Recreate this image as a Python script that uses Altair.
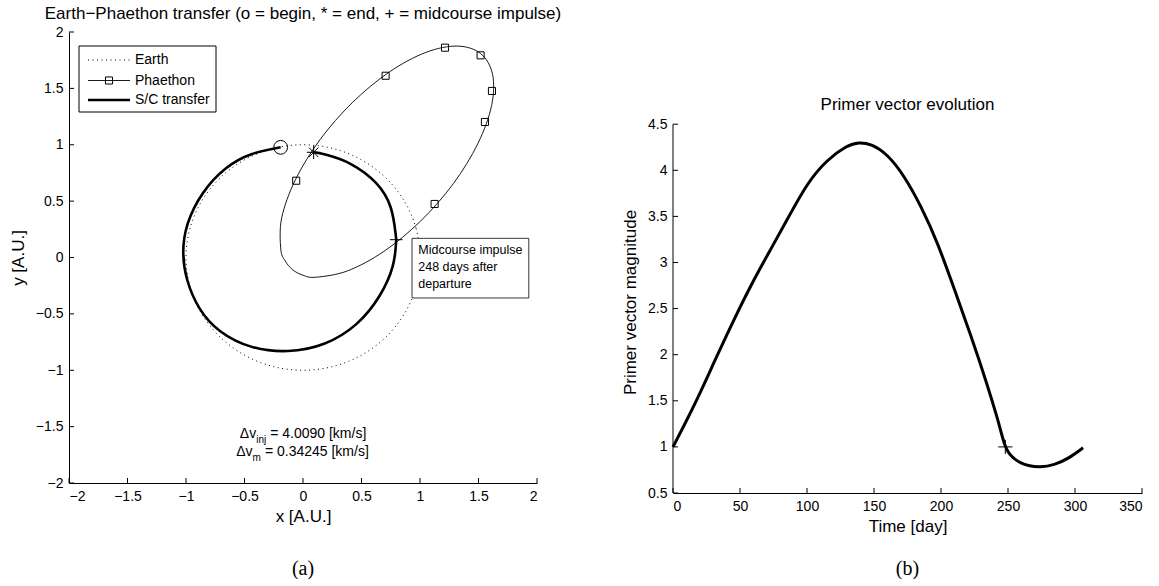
import altair as alt
import pandas as pd

FONT = "Liberation Sans"

# ---------------- data ----------------
earth_x = [1.0, 0.966, 0.866, 0.707, 0.5, 0.259, 0.0, -0.259, -0.5, -0.707, -0.866, -0.966,
           -1.0, -0.966, -0.866, -0.707, -0.5, -0.259, 0.0, 0.259, 0.5, 0.707, 0.866, 0.966]
earth_y = [0.0, 0.259, 0.5, 0.707, 0.866, 0.966, 1.0, 0.966, 0.866, 0.707, 0.5, 0.259,
           0.0, -0.259, -0.5, -0.707, -0.866, -0.966, -1.0, -0.966, -0.866, -0.707, -0.5, -0.259]

phaethon_x = [1.519, 1.321, 1.050, 0.739, 0.425, 0.145, -0.065, -0.182, -0.190, -0.153, -0.089,
              -0.001, 0.109, 0.380, 0.691, 1.005, 1.285, 1.495, 1.612, 1.620]
phaethon_y = [1.808, 1.875, 1.819, 1.646, 1.377, 1.045, 0.689, 0.352, 0.076, -0.029, -0.108,
              -0.157, -0.175, -0.119, 0.054, 0.323, 0.655, 1.011, 1.348, 1.625]

square_x = [1.214, 1.518, 1.615, 1.555, 1.125, -0.058, 0.706]
square_y = [1.861, 1.793, 1.477, 1.202, 0.475, 0.681, 1.612]

# S/C transfer: arc before the midcourse impulse, then arc after it
transfer1_x = [-0.191, -0.44, -0.66, -0.869, -1.0, -1.035, -1.0, -0.897, -0.726, -0.442, -0.128,
               0.185, 0.470, 0.669, 0.783, 0.797]
transfer1_y = [0.977, 0.93, 0.81, 0.578, 0.30, 0.046, -0.20, -0.457, -0.663, -0.812, -0.845,
               -0.785, -0.605, -0.339, -0.073, 0.158]
transfer2_x = [0.797, 0.765, 0.641, 0.413, 0.185, 0.091]
transfer2_y = [0.158, 0.459, 0.667, 0.844, 0.918, 0.933]

begin_pt = (-0.191, 0.977)
end_pt = (0.091, 0.933)
mid_pt = (0.797, 0.158)

xy_ticks = [-2, -1.5, -1, -0.5, 0, 0.5, 1, 1.5, 2]

primer_t = [0, 8.2, 18.2, 30.6, 45.6, 60.5, 73.0, 85.4, 100.3, 115.3, 130.2, 138.4, 147.7, 160.1,
            172.6, 185.0, 197.5, 209.9, 222.4, 234.8, 242.3, 245.0, 247.5, 250.0, 252.5, 255.5,
            259.5, 264.7, 273.9, 284.6, 294.6, 306.0]
primer_v = [1.0, 1.23, 1.52, 1.917, 2.387, 2.82, 3.145, 3.47, 3.868, 4.12, 4.272, 4.305, 4.288, 4.175,
            3.94, 3.615, 3.217, 2.712, 2.206, 1.664, 1.30, 1.15, 1.02, 0.945, 0.9, 0.862,
            0.826, 0.797, 0.777, 0.804, 0.869, 0.99]
impulse_t = 248
impulse_v = 1.0
t_ticks = [0, 50, 100, 150, 200, 250, 300, 350]
v_ticks = [0.5, 1, 1.5, 2, 2.5, 3, 3.5, 4, 4.5]

legend_labels = ["Earth", "Phaethon", "S/C transfer"]
note_lines = ["Midcourse impulse", "248 days after", "departure"]

# ---------------- left panel ----------------
LW, LH = 468, 451
xs = alt.Scale(domain=[-2, 2], nice=False, zero=False)
ys = alt.Scale(domain=[-2, 2], nice=False, zero=False)
X = lambda: alt.X("x:Q", scale=xs, axis=alt.Axis(values=xy_ticks, format=".1~f", ticks=False,
                                                labelPadding=6, title="x [A.U.]", titlePadding=5))
Y = lambda: alt.Y("y:Q", scale=ys, axis=alt.Axis(values=xy_ticks, format=".1~f", ticks=False,
                                                labelPadding=6, title="y [A.U.]", titlePadding=8))

earth_df = pd.DataFrame({"x": earth_x, "y": earth_y, "o": range(len(earth_x))})
ph_df = pd.DataFrame({"x": phaethon_x, "y": phaethon_y, "o": range(len(phaethon_x))})
sq_df = pd.DataFrame({"x": square_x, "y": square_y})
tr_df = pd.concat([
    pd.DataFrame({"x": transfer1_x, "y": transfer1_y, "o": range(len(transfer1_x)), "seg": "a"}),
    pd.DataFrame({"x": transfer2_x, "y": transfer2_y, "o": range(len(transfer2_x)), "seg": "b"}),
])

earth = alt.Chart(earth_df).mark_line(color="black", strokeWidth=1, strokeDash=[1, 3.5],
                                      interpolate="cardinal-closed").encode(X(), Y(), order="o:Q")
phaethon = alt.Chart(ph_df).mark_line(color="black", strokeWidth=0.9,
                                      interpolate="cardinal-closed").encode(X(), Y(), order="o:Q")
squares = alt.Chart(sq_df).mark_point(shape="square", filled=False, color="black", size=50,
                                      strokeWidth=1, opacity=1).encode(X(), Y())
transfer = alt.Chart(tr_df).mark_line(color="black", strokeWidth=2.6,
                                      interpolate="basis").encode(X(), Y(), order="o:Q", detail="seg:N")

STAR = "M-1,0L1,0M0,-1L0,1M-0.7,-0.7L0.7,0.7M-0.7,0.7L0.7,-0.7"
PLUS = "M-1,0L1,0M0,-1L0,1"
begin = alt.Chart(pd.DataFrame({"x": [begin_pt[0]], "y": [begin_pt[1]]})).mark_point(
    shape="circle", filled=False, color="black", size=190, strokeWidth=1, opacity=1).encode(X(), Y())
endm = alt.Chart(pd.DataFrame({"x": [end_pt[0]], "y": [end_pt[1]]})).mark_point(
    shape=STAR, filled=False, color="black", size=180, strokeWidth=1, opacity=1).encode(X(), Y())
midm = alt.Chart(pd.DataFrame({"x": [mid_pt[0]], "y": [mid_pt[1]]})).mark_point(
    shape=PLUS, filled=False, color="black", size=160, strokeWidth=1, opacity=1).encode(X(), Y())

xt_df = pd.DataFrame({"x": xy_ticks})
yt_df = pd.DataFrame({"y": xy_ticks})
xticks_l = alt.Chart(xt_df).mark_rule(color="black", strokeWidth=1).encode(
    X(), y=alt.value(LH), y2=alt.value(LH - 5))
yticks_l = alt.Chart(yt_df).mark_rule(color="black", strokeWidth=1).encode(
    Y(), x=alt.value(0), x2=alt.value(5))

one = pd.DataFrame({"k": [0]})
# legend (manual)
leg_box = alt.Chart(one).mark_rect(fill="white", stroke="black", strokeWidth=1).encode(
    x=alt.value(10), x2=alt.value(147), y=alt.value(14), y2=alt.value(80))
leg_rows = [28, 48.5, 68]
leg_earth = alt.Chart(one).mark_rule(color="black", strokeWidth=1, strokeDash=[1, 3.5]).encode(
    x=alt.value(19), x2=alt.value(61), y=alt.value(leg_rows[0]))
leg_ph = alt.Chart(one).mark_rule(color="black", strokeWidth=0.9).encode(
    x=alt.value(19), x2=alt.value(61), y=alt.value(leg_rows[1]))
leg_sq = alt.Chart(one).mark_point(shape="square", filled=False, color="black", size=50,
                                   strokeWidth=1, opacity=1).encode(
    x=alt.value(40), y=alt.value(leg_rows[1]))
leg_tr = alt.Chart(one).mark_rule(color="black", strokeWidth=2.6).encode(
    x=alt.value(19), x2=alt.value(61), y=alt.value(leg_rows[2]))
leg_text = alt.layer(*[
    alt.Chart(pd.DataFrame({"t": [lab]})).mark_text(
        align="left", baseline="middle", font=FONT, fontSize=14, color="black").encode(
        text="t:N", x=alt.value(66), y=alt.value(yy))
    for lab, yy in zip(legend_labels, leg_rows)
])

# annotation box
note_box = alt.Chart(pd.DataFrame({"x": [0.932], "x2": [1.93], "y": [0.170], "y2": [-0.359]})).mark_rect(
    fill="white", stroke="black", strokeWidth=0.8).encode(
    x=alt.X("x:Q", scale=xs), x2="x2:Q", y=alt.Y("y:Q", scale=ys), y2="y2:Q")
note_text = alt.layer(*[
    alt.Chart(pd.DataFrame({"x": [0.985], "y": [0.069], "t": [ln]})).mark_text(
        align="left", baseline="middle", font=FONT, fontSize=12.5, color="black", dy=17 * i).encode(
        X(), Y(), text="t:N")
    for i, ln in enumerate(note_lines)
])

# delta-v text with subscripts
dv_rows = [
    (-1.565, "Δv", "inj", "= 4.0090 [km/s]", -46.8, -32.8),
    (-1.728, "Δv", "m", "= 0.34245 [km/s]", -50.4, -38.1),
]
dv_layers = []
for yy, a, sub, rest, d1, d3 in dv_rows:
    base = alt.Chart(pd.DataFrame({"x": [0.0], "y": [yy], "a": [a], "s": [sub], "r": [rest]}))
    dv_layers.append(base.mark_text(align="right", baseline="middle", font=FONT, fontSize=14,
                                    color="black", dx=d1).encode(X(), Y(), text="a:N"))
    dv_layers.append(base.mark_text(align="left", baseline="middle", font=FONT, fontSize=10,
                                    color="black", dx=d1, dy=6).encode(X(), Y(), text="s:N"))
    dv_layers.append(base.mark_text(align="left", baseline="middle", font=FONT, fontSize=14,
                                    color="black", dx=d3).encode(X(), Y(), text="r:N"))

cap_a = alt.Chart(pd.DataFrame({"t": ["(a)"]})).mark_text(
    font="Liberation Serif", fontSize=20, baseline="middle", align="center", color="black").encode(
    text="t:N", x=alt.value(LW / 2), y=alt.value(537))

left = alt.layer(
    earth, phaethon, squares, transfer, begin, endm, midm, xticks_l, yticks_l,
    note_box, note_text, *dv_layers, leg_box, leg_earth, leg_ph, leg_sq, leg_tr, leg_text, cap_a
).properties(
    width=LW, height=LH,
    title=alt.TitleParams("Earth−Phaethon transfer (o = begin, * = end, + = midcourse impulse)",
                          font=FONT, fontSize=17, fontWeight="normal", anchor="middle", offset=2,
                          color="black"),
)

# ---------------- right panel ----------------
RW, RH = 469, 461
ts = alt.Scale(domain=[0, 350], nice=False, zero=False)
vs = alt.Scale(domain=[0.5, 5.5], nice=False, zero=False)
T = lambda: alt.X("t:Q", scale=ts, axis=alt.Axis(values=t_ticks, format="d", ticks=False,
                                                labelPadding=6, title="Time [day]", titlePadding=5))
V = lambda: alt.Y("v:Q", scale=vs, axis=alt.Axis(values=v_ticks, format=".1~f", ticks=False, domain=False,
                                                labelPadding=6, title="Primer vector magnitude",
                                                titlePadding=8, titleY=270))

pr_df = pd.DataFrame({"t": primer_t, "v": primer_v})
primer = alt.Chart(pr_df).mark_line(color="black", strokeWidth=3, interpolate="basis").encode(T(), V())
imp = alt.Chart(pd.DataFrame({"t": [impulse_t], "v": [impulse_v]})).mark_point(
    shape=PLUS, filled=False, color="black", size=200, strokeWidth=1, opacity=1).encode(T(), V())
ydomain = alt.Chart(pd.DataFrame({"t": [0], "v": [v_ticks[0]], "v2": [v_ticks[-1]]})).mark_rule(
    color="black", strokeWidth=1).encode(T(), V(), y2="v2:Q")
tt_df = pd.DataFrame({"t": t_ticks})
vt_df = pd.DataFrame({"v": v_ticks})
xticks_r = alt.Chart(tt_df).mark_rule(color="black", strokeWidth=1).encode(
    T(), y=alt.value(RH), y2=alt.value(RH - 5))
yticks_r = alt.Chart(vt_df).mark_rule(color="black", strokeWidth=1).encode(
    V(), x=alt.value(0), x2=alt.value(5))
r_title = alt.Chart(pd.DataFrame({"t": [175], "v": [4.706], "s": ["Primer vector evolution"]})).mark_text(
    font=FONT, fontSize=17, baseline="middle", align="center", color="black").encode(T(), V(), text="s:N")
cap_b = alt.Chart(pd.DataFrame({"s": ["(b)"]})).mark_text(
    font="Liberation Serif", fontSize=20, baseline="middle", align="center", color="black").encode(
    text="s:N", x=alt.value(RW / 2), y=alt.value(537))

right = alt.layer(primer, imp, ydomain, xticks_r, yticks_r, r_title, cap_b).properties(width=RW, height=RH)

chart = alt.hconcat(left, right, spacing=59).properties(
    padding={"left": 9, "top": 5, "right": 0, "bottom": 0}, background="white"
).configure_view(stroke=None).configure_axis(
    labelFont=FONT, labelFontSize=14, labelColor="black", titleFont=FONT, titleFontSize=17,
    titleFontWeight="normal", titleColor="black", domainColor="black", domainWidth=1, grid=False
)

chart.save("out.html", embed_options={"renderer": "svg", "actions": False})
